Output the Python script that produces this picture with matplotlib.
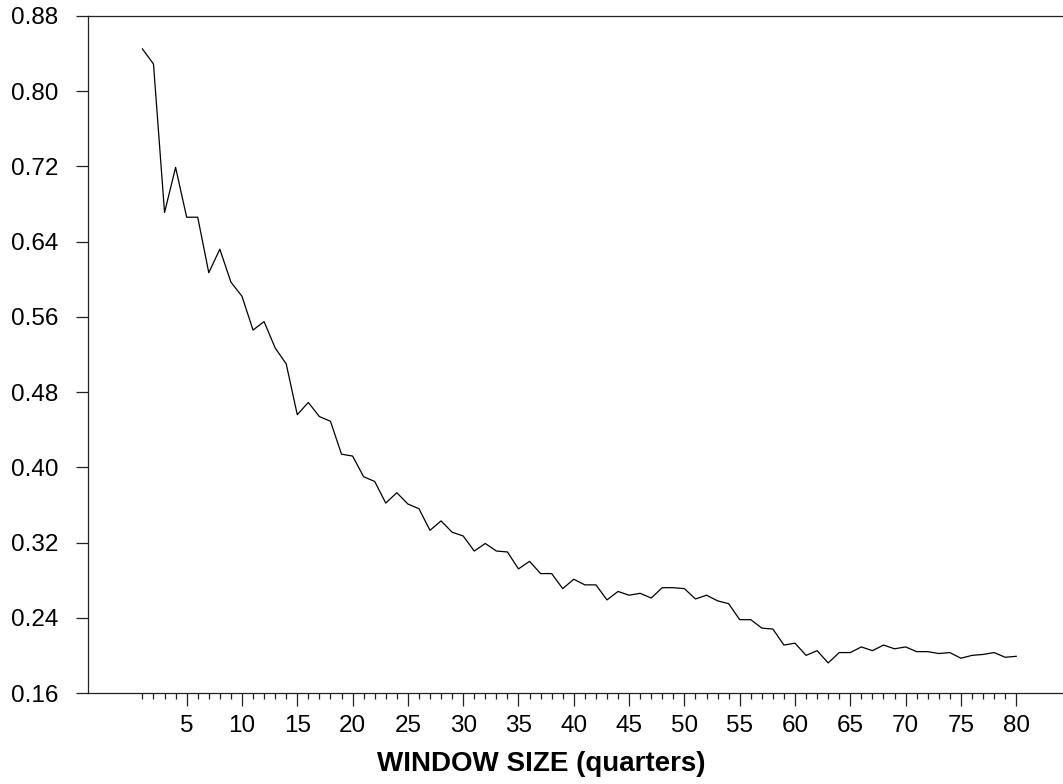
import numpy as np
import matplotlib
matplotlib.use("Agg")
import matplotlib.pyplot as plt
from matplotlib.ticker import FixedLocator

plt.rcParams['font.family'] = ['Liberation Sans', 'DejaVu Sans']

window = np.arange(1, 81)
values = [
    0.845, 0.829, 0.671, 0.719, 0.666, 0.666, 0.607, 0.632, 0.597, 0.582,
    0.546, 0.555, 0.527, 0.510, 0.456, 0.469, 0.454, 0.449, 0.414, 0.412,
    0.390, 0.385, 0.362, 0.373, 0.361, 0.356, 0.333, 0.343, 0.331, 0.327,
    0.311, 0.319, 0.311, 0.310, 0.292, 0.300, 0.287, 0.287, 0.271, 0.281,
    0.275, 0.275, 0.259, 0.268, 0.264, 0.266, 0.261, 0.272, 0.272, 0.271,
    0.260, 0.264, 0.258, 0.255, 0.238, 0.238, 0.229, 0.228, 0.211, 0.213,
    0.200, 0.205, 0.192, 0.203, 0.203, 0.209, 0.205, 0.211, 0.207, 0.209,
    0.204, 0.204, 0.202, 0.203, 0.197, 0.200, 0.201, 0.203, 0.198, 0.199,
]
yticks = [0.16, 0.24, 0.32, 0.40, 0.48, 0.56, 0.64, 0.72, 0.80, 0.88]
xticks = list(range(5, 81, 5))

fig = plt.figure(figsize=(10.63, 7.84), dpi=100)
ax = fig.add_axes([88 / 1063, 1 - 693 / 784, 1 - 88 / 1063, (693 - 16) / 784])

ax.plot(window, values, color='black', lw=0.9)

ax.set_xlim(-3.92, 84.23)
ax.set_ylim(0.16, 0.88)
ax.set_yticks(yticks)
ax.set_yticklabels([f'{v:.2f}' for v in yticks])
ax.set_xticks(xticks)
ax.set_xticklabels([str(v) for v in xticks])
ax.xaxis.set_minor_locator(FixedLocator([v for v in window if v % 5 != 0]))

ax.spines['right'].set_visible(False)
for s in ['left', 'top', 'bottom']:
    ax.spines[s].set_linewidth(0.9)
    ax.spines[s].set_color('#222222')

ax.tick_params(axis='y', direction='out', length=8.6, width=0.9, pad=13,
               labelsize=17.5, color='#222222')
ax.tick_params(axis='x', which='major', direction='out', length=9.5, width=0.9,
               pad=6, labelsize=17.5, color='#222222')
ax.tick_params(axis='x', which='minor', direction='out', length=4.3, width=0.9,
               color='#222222')

fig.text(541 / 1063, 1 - 764 / 784, 'WINDOW SIZE (quarters)', ha='center',
         va='center', fontsize=20, fontweight='bold')

fig.savefig('out.png', dpi=100)
